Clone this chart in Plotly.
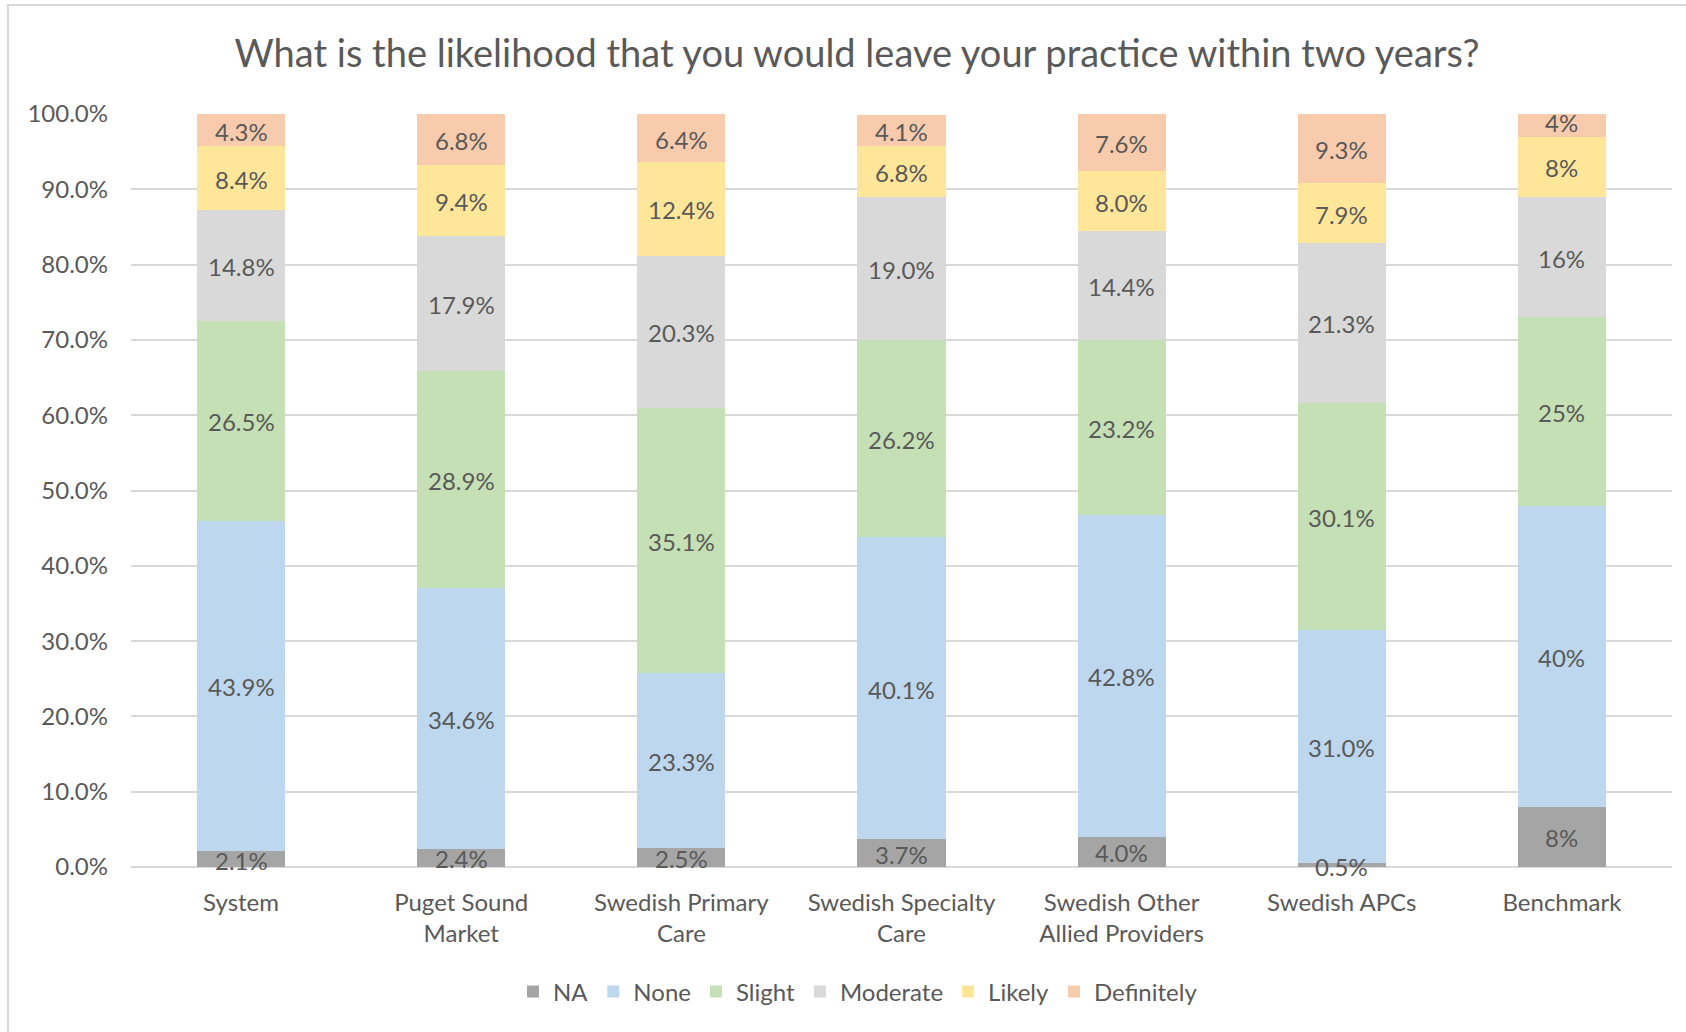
import numpy as np
import plotly.graph_objects as go

categories = ["System", "Puget Sound<br>Market", "Swedish Primary<br>Care", "Swedish Specialty<br>Care",
              "Swedish Other<br>Allied Providers", "Swedish APCs", "Benchmark"]

na_vals         = [2.1, 2.4, 2.5, 3.7, 4.0, 0.5, 8]
none_vals       = [43.9, 34.6, 23.3, 40.1, 42.8, 31.0, 40]
slight_vals     = [26.5, 28.9, 35.1, 26.2, 23.2, 30.1, 25]
moderate_vals   = [14.8, 17.9, 20.3, 19.0, 14.4, 21.3, 16]
likely_vals     = [8.4, 9.4, 12.4, 6.8, 8.0, 7.9, 8]
definitely_vals = [4.3, 6.8, 6.4, 4.1, 7.6, 9.3, 4]

# label decimals as shown (benchmark shown without decimals)
decimals = [1, 1, 1, 1, 1, 1, 0]

series = [
    ("NA", na_vals, "#a5a5a5"),
    ("None", none_vals, "#bdd7ee"),
    ("Slight", slight_vals, "#c5e0b4"),
    ("Moderate", moderate_vals, "#d9d9d9"),
    ("Likely", likely_vals, "#ffe699"),
    ("Definitely", definitely_vals, "#f8cbad"),
]

FONT = "Lato"
TXT = "#595959"

fig = go.Figure()
base = np.zeros(len(categories))
for name, vals, color in series:
    v = np.array(vals, dtype=float) / 100
    fig.add_trace(go.Bar(
        name=name,
        x=categories,
        y=v,
        marker=dict(color=color, line=dict(width=0)),
    ))
    mids = base + v / 2
    for c, m, val, d in zip(categories, mids, vals, decimals):
        fig.add_annotation(
            x=c, y=m, xref="x", yref="y",
            text=f"{val:.{d}f}%",
            showarrow=False, yshift=-1,
            xanchor="center", yanchor="middle",
            font=dict(family=FONT, size=24, color=TXT),
        )
    base = base + v

W, H = 1686, 1032
L, R, T, B = 131, 14, 114, 165
pw = W - L - R
ph = H - T - B

def px_x(px):
    return (px - L) / pw

def px_y(py):
    return (H - B - py) / ph

fig.update_layout(
    width=W, height=H,
    margin=dict(l=L, r=R, t=T, b=B, pad=0),
    barmode="stack",
    bargap=0.6,
    plot_bgcolor="white",
    paper_bgcolor="white",
    font=dict(family=FONT, color=TXT, size=24),
    title=dict(
        text="What is the likelihood that you would leave your practice within two years?",
        x=857 / W, xanchor="center",
        y=1 - 54 / H, yanchor="middle", yref="container",
        font=dict(family=FONT, size=38, color=TXT),
    ),
    legend=dict(
        orientation="h",
        x=px_x(858), xanchor="center",
        y=px_y(992), yanchor="middle",
        font=dict(family=FONT, size=24, color=TXT),
        traceorder="normal",
        itemwidth=30,
    ),
    showlegend=True,
)

fig.update_yaxes(
    range=[0, 1],
    tickformat=".1%",
    dtick=0.1,
    showgrid=True,
    gridcolor="#d9d9d9",
    gridwidth=2,
    zeroline=True,
    zerolinecolor="#d9d9d9",
    zerolinewidth=2,
    showline=False,
    ticks="",
    ticklabelstandoff=22,
    tickfont=dict(family=FONT, size=24, color=TXT),
)
fig.update_xaxes(
    showgrid=False,
    showline=False,
    ticks="",
    ticklabelstandoff=19,
    tickfont=dict(family=FONT, size=24, color=TXT),
)

# chart-area border (extends past the right and bottom of the picture)
fig.add_shape(type="rect", xref="paper", yref="paper",
              x0=px_x(8), x1=px_x(W + 40), y0=px_y(H + 40), y1=px_y(5),
              line=dict(color="#d9d9d9", width=2), fillcolor="rgba(0,0,0,0)", layer="below")

fig.write_html("out.html")
